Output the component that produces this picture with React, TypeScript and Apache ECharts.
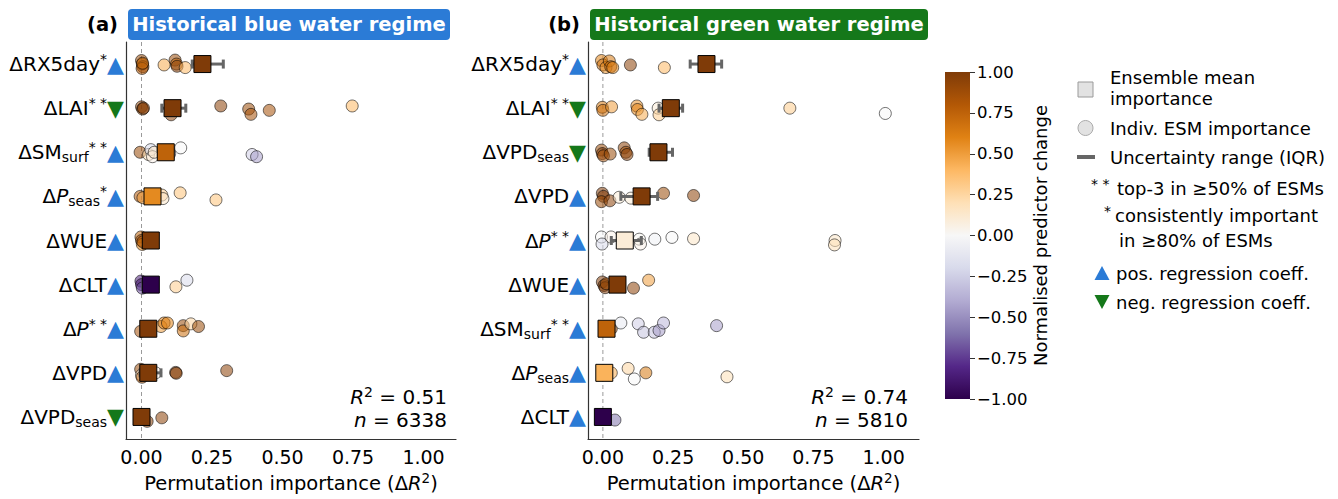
import React, { useEffect, useRef } from 'react';
import * as echarts from 'echarts';

const FONT = '"DejaVu Sans", sans-serif';
const BLUE = '#2b7bd6';
const GREEN = '#15781a';

// PuOr colormap, from -1 (purple) to +1 (brown)
const PUOR = ['#2d004b', '#542788', '#8073ac', '#b2abd2', '#d8daeb', '#f7f7f7', '#fee0b6', '#fdb863', '#e08214', '#b35806', '#7f3b08'];
const CBAR_TICKS = [-1, -0.75, -0.5, -0.25, 0, 0.25, 0.5, 0.75, 1];
const X_TICKS = [0, 0.25, 0.5, 0.75, 1];

// ---------- Panel (a): historical blue water regime ----------
const catsA = ['RX5day', 'LAI', 'SMsurf', 'Pseas', 'WUE', 'CLT', 'P', 'VPD', 'VPDseas'];
const starsA = ['*', '**', '**', '*', '', '', '**', '', ''];
const signA = [1, -1, 1, 1, 1, 1, 1, 1, -1];
const meanA = [0.216, 0.110, 0.086, 0.039, 0.033, 0.033, 0.024, 0.024, 0.0];
const meanColA = [1.0, 1.0, 0.75, 0.57, 1.0, -1.0, 1.0, 1.0, 1.0];
const iqrA = [[0.18, 0.29], [0.072, 0.157], [0.06, 0.11], [0.02, 0.06], [0.01, 0.05], [0.005, 0.05], [0.01, 0.04], [-0.005, 0.069], [0.0, 0.02]];
// [row, importance, vertical jitter, normalised change]
const esmA = [
  [0, 0.000, -0.08, 0.9], [0, 0.003, 0.0, 0.85], [0, 0.005, 0.06, 0.95], [0, 0.002, 0.1, 0.8], [0, 0.004, -0.02, 0.7],
  [0, 0.080, 0.02, 0.45], [0, 0.119, -0.09, 0.9], [0, 0.124, 0.0, 0.75], [0, 0.126, 0.05, 0.95], [0, 0.155, 0.08, 0.4],
  [1, 0.0, -0.03, 0.95], [1, 0.004, 0.02, 0.9], [1, 0.007, 0.0, 1.0], [1, 0.105, 0.15, 0.95], [1, 0.281, -0.05, 0.95],
  [1, 0.380, 0.02, 0.9], [1, 0.388, 0.14, 0.85], [1, 0.453, 0.05, 0.85], [1, 0.747, -0.05, 0.4],
  [2, -0.005, 0.0, 0.9], [2, 0.025, 0.05, 0.2], [2, 0.033, -0.06, -0.2], [2, 0.039, 0.1, 0.05], [2, 0.045, 0.0, 0.15],
  [2, 0.1, 0.03, -0.4], [2, 0.139, -0.1, 0.0], [2, 0.392, 0.05, -0.25], [2, 0.408, 0.1, -0.45],
  [3, -0.005, 0.0, 0.8], [3, 0.005, 0.03, 0.5], [3, 0.072, -0.03, 0.3], [3, 0.076, 0.05, 0.15], [3, 0.137, -0.08, 0.35], [3, 0.264, 0.08, 0.35],
  [4, -0.002, -0.08, 0.75], [4, 0.0, 0.0, 0.9], [4, 0.003, 0.09, 0.6], [4, 0.005, 0.03, 0.8],
  [5, -0.002, -0.08, -0.85], [5, 0.0, 0.0, -0.9], [5, 0.003, 0.08, -0.7], [5, 0.122, 0.05, 0.3], [5, 0.161, -0.1, -0.2],
  [6, -0.003, 0.06, 0.85], [6, 0.069, -0.05, 0.5], [6, 0.080, -0.13, 0.65], [6, 0.092, -0.13, 0.6], [6, 0.148, -0.07, 0.9],
  [6, 0.148, 0.05, 0.7], [6, 0.175, -0.11, 0.25], [6, 0.202, -0.05, 0.9],
  [7, -0.003, -0.08, 0.9], [7, 0.0, 0.05, 0.1], [7, 0.002, 0.1, 0.8], [7, 0.05, 0.0, 0.05], [7, 0.121, -0.01, 1.0], [7, 0.123, 0.01, 0.95], [7, 0.302, -0.05, 0.95],
  [8, 0.0, 0.0, 0.9], [8, 0.02, 0.1, 0.95], [8, 0.072, 0.02, 0.95],
];

// ---------- Panel (b): historical green water regime ----------
const catsB = ['RX5day', 'LAI', 'VPDseas', 'VPD', 'P', 'WUE', 'SMsurf', 'Pseas', 'CLT'];
const starsB = ['*', '**', '', '', '**', '', '**', '', ''];
const signB = [1, -1, -1, 1, 1, 1, 1, 1, 1];
const meanB = [0.369, 0.242, 0.198, 0.138, 0.078, 0.052, 0.013, 0.005, 0.0];
const meanColB = [1.0, 1.0, 1.0, 1.0, 0.1, 1.0, 0.75, 0.42, -1.0];
const iqrB = [[0.311, 0.423], [0.2, 0.284], [0.165, 0.248], [0.064, 0.195], [0.03, 0.137], [0.03, 0.07], [0.0, 0.03], [-0.005, 0.02], [0.0, 0.02]];
const esmB = [
  [0, -0.005, -0.08, 0.6], [0, 0.0, 0.02, 0.7], [0, 0.011, 0.08, 0.55], [0, 0.023, -0.07, 0.65], [0, 0.028, 0.06, 0.75],
  [0, 0.035, 0.08, 0.6], [0, 0.098, 0.02, 0.95], [0, 0.219, 0.08, 0.4],
  [1, -0.002, -0.02, 0.65], [1, 0.0, 0.05, 0.7], [1, 0.031, -0.03, 0.5], [1, 0.121, -0.05, 0.55], [1, 0.123, 0.03, 0.6],
  [1, 0.139, 0.14, 0.45], [1, 0.197, 0.0, 0.1], [1, 0.2, 0.15, 0.3], [1, 0.666, 0.0, 0.3], [1, 1.006, 0.12, 0.0],
  [2, -0.005, -0.05, 0.9], [2, -0.002, 0.03, 1.0], [2, 0.002, 0.08, 0.85], [2, 0.026, 0.04, 0.9], [2, 0.076, -0.1, 0.95],
  [2, 0.082, 0.0, 0.9], [2, 0.086, 0.05, 0.95],
  [3, -0.002, -0.07, 1.0], [3, 0.002, 0.0, 1.0], [3, -0.005, 0.12, 0.9], [3, 0.025, 0.1, 0.95], [3, 0.058, 0.02, 0.1],
  [3, 0.1, 0.04, 0.1], [3, 0.216, -0.07, 0.9], [3, 0.323, -0.02, 0.95],
  [4, -0.005, -0.08, 0.0], [4, -0.003, 0.08, -0.2], [4, 0.029, -0.08, 0.05], [4, 0.13, -0.03, 0.02], [4, 0.134, 0.08, 0.05],
  [4, 0.185, -0.03, -0.05], [4, 0.246, -0.07, 0.0], [4, 0.323, -0.04, 0.15], [4, 0.827, 0.0, 0.15], [4, 0.825, 0.1, 0.2],
  [5, -0.002, -0.06, 1.0], [5, 0.004, 0.02, 0.95], [5, 0.008, 0.07, 1.0], [5, 0.012, -0.02, 0.9], [5, 0.109, 0.08, 0.95], [5, 0.163, -0.1, 0.5],
  [6, 0.03, 0.0, 0.9], [6, 0.064, -0.13, -0.1], [6, 0.126, -0.11, -0.25], [6, 0.145, 0.08, -0.3], [6, 0.183, 0.08, -0.3],
  [6, 0.2, 0.04, -0.45], [6, 0.216, -0.13, -0.35], [6, 0.405, -0.07, -0.45],
  [7, 0.03, 0.0, 0.45], [7, 0.09, -0.1, 0.25], [7, 0.112, 0.14, 0.0], [7, 0.153, 0.0, 0.65], [7, 0.442, 0.09, 0.2],
  [8, 0.0, 0.0, -0.9], [8, 0.043, 0.07, -0.6],
];

const statsA = { r2: '0.51', n: '6338' };
const statsB = { r2: '0.74', n: '5810' };

const LABEL_BASE: Record<string, string> = {
  RX5day: '{m|ΔRX5day}',
  LAI: '{m|ΔLAI}',
  SMsurf: '{m|ΔSM}{sub|surf}',
  Pseas: '{m|Δ}{it|P}{sub|seas}',
  WUE: '{m|ΔWUE}',
  CLT: '{m|ΔCLT}',
  P: '{m|Δ}{it|P}',
  VPD: '{m|ΔVPD}',
  VPDseas: '{m|ΔVPD}{sub|seas}',
};

const RICH = {
  m: { fontSize: 20, fontFamily: FONT, color: '#000', lineHeight: 24 },
  it: { fontSize: 20, fontFamily: FONT, fontStyle: 'italic', color: '#000', lineHeight: 24 },
  sub: { fontSize: 14, fontFamily: FONT, color: '#000', lineHeight: 14, verticalAlign: 'bottom' },
  sup: { fontSize: 14, fontFamily: FONT, color: '#000', lineHeight: 16, verticalAlign: 'top' },
  up: { fontSize: 22, fontFamily: FONT, color: BLUE, lineHeight: 24 },
  dn: { fontSize: 22, fontFamily: FONT, color: GREEN, lineHeight: 24 },
};

function makeLabels(cats: string[], stars: string[], signs: number[]) {
  return cats.map((c, i) => LABEL_BASE[c] + (stars[i] ? `{sup|${stars[i].split('').join(' ')}}` : '') + (signs[i] > 0 ? '{up|▲}' : '{dn|▼}'));
}

function xAxisFor(grid: number, min: number, max: number) {
  return {
    gridIndex: grid, type: 'value', min, max,
    axisLine: { show: true, onZero: false, lineStyle: { color: '#333', width: 1.2 } },
    axisTick: { show: false },
    splitLine: { show: false },
    axisLabel: { customValues: X_TICKS, formatter: (v: number) => v.toFixed(2), fontSize: 19, color: '#000', margin: 8, fontFamily: FONT },
    name: 'Permutation importance (Δ{i|R}{s|2})',
    nameLocation: 'middle', nameGap: 32,
    nameTextStyle: {
      fontSize: 19.5, color: '#000', fontFamily: FONT,
      rich: {
        i: { fontSize: 19.5, fontStyle: 'italic', fontFamily: FONT, color: '#000', lineHeight: 24 },
        s: { fontSize: 13.5, fontFamily: FONT, color: '#000', lineHeight: 16, verticalAlign: 'top' },
      },
    },
  };
}

function catAxisFor(grid: number, cats: string[], labels: string[]) {
  return {
    gridIndex: grid, type: 'category', data: cats, inverse: true,
    axisLine: { show: true, onZero: false, lineStyle: { color: '#333', width: 1.2 } },
    axisTick: { show: false },
    splitLine: { show: false },
    axisLabel: { interval: 0, margin: 2, formatter: (_v: string, i: number) => labels[i], rich: RICH },
  };
}

function valAxisFor(grid: number) {
  return { gridIndex: grid, type: 'value', min: -0.5, max: 8.5, inverse: true, show: false, axisLine: { onZero: false } };
}

function panelSeries(xi: number, yi: number, esm: number[][], mean: number[], meanCol: number[], iqr: number[][]) {
  return [
    {
      type: 'custom', xAxisIndex: xi, yAxisIndex: yi, z: 1, silent: true,
      data: [[0, -0.5, 8.5]], encode: { x: 0, y: [1, 2] },
      renderItem: (_p: any, api: any) => {
        const a = api.coord([api.value(0), api.value(1)]);
        const b = api.coord([api.value(0), api.value(2)]);
        return { type: 'line', shape: { x1: a[0], y1: a[1], x2: b[0], y2: b[1] }, style: { stroke: '#9a9a9a', lineWidth: 1, lineDash: [4, 3] } };
      },
    },
    {
      type: 'scatter', xAxisIndex: xi, yAxisIndex: yi, z: 2, silent: true,
      symbol: 'circle', symbolSize: 12,
      itemStyle: { opacity: 0.55, borderColor: '#000', borderWidth: 1 },
      data: esm.map((d) => [d[1], d[0] + d[2], d[3]]),
    },
    {
      type: 'custom', xAxisIndex: xi, yAxisIndex: yi, z: 3, silent: true,
      data: iqr.map((q, i) => [q[0], q[1], i]), encode: { x: [0, 1], y: 2 },
      renderItem: (_p: any, api: any) => {
        const a = api.coord([api.value(0), api.value(2)]);
        const b = api.coord([api.value(1), api.value(2)]);
        const st = { fill: '#666' };
        return {
          type: 'group',
          children: [
            { type: 'line', shape: { x1: a[0], y1: a[1], x2: b[0], y2: b[1] }, style: { stroke: '#666', lineWidth: 3 } },
            { type: 'rect', shape: { x: a[0] - 1.5, y: a[1] - 4.5, width: 3, height: 9 }, style: st },
            { type: 'rect', shape: { x: b[0] - 1.5, y: b[1] - 4.5, width: 3, height: 9 }, style: st },
          ],
        };
      },
    },
    {
      type: 'scatter', xAxisIndex: xi, yAxisIndex: yi, z: 4, silent: true,
      symbol: 'rect', symbolSize: 17,
      itemStyle: { opacity: 1, borderColor: '#000', borderWidth: 1 },
      data: mean.map((m, i) => [m, i, meanCol[i]]),
    },
  ];
}

function txt(text: string, x: number, y: number, size: number, extra: any = {}) {
  return {
    type: 'text', x, y, silent: true,
    style: {
      text, fontSize: size, fontFamily: FONT, fill: '#000',
      align: 'left', verticalAlign: 'middle', textAlign: 'left', textVerticalAlign: 'middle', ...extra,
    },
  };
}

const STAT_RICH = {
  i: { fontSize: 20, fontStyle: 'italic', fontFamily: FONT, color: '#000', lineHeight: 24 },
  s: { fontSize: 14, fontFamily: FONT, color: '#000', lineHeight: 16, verticalAlign: 'top' },
};

function statText(x: number, s: { r2: string; n: string }) {
  return [
    txt(`{i|R}{s|2} = ${s.r2}`, x, 397, 20, { align: 'right', textAlign: 'right', rich: STAT_RICH }),
    txt(`{i|n} = ${s.n}`, x, 420, 20, { align: 'right', textAlign: 'right', rich: STAT_RICH }),
  ];
}

function titleBox(label: string, title: string, x0: number, x1: number, color: string) {
  return [
    txt(label, x0 - 10, 24, 19.5, { fontWeight: 'bold', align: 'right', textAlign: 'right' }),
    { type: 'rect', silent: true, shape: { x: x0, y: 9, width: x1 - x0, height: 31, r: 4 }, style: { fill: color } },
    txt(title, (x0 + x1) / 2, 24.5, 19.5, { fontWeight: 'bold', fill: '#fff', align: 'center', textAlign: 'center' }),
  ];
}

function legendGraphics() {
  return [
    { type: 'rect', silent: true, shape: { x: 1078, y: 82, width: 15, height: 15 }, style: { fill: '#e2e2e2', stroke: '#9a9a9a', lineWidth: 1 } },
    txt('Ensemble mean', 1110, 77, 18),
    txt('importance', 1110, 98, 18),
    { type: 'circle', silent: true, shape: { cx: 1085.5, cy: 128, r: 7.5 }, style: { fill: '#e2e2e2', stroke: '#aaaaaa', lineWidth: 1 } },
    txt('Indiv. ESM importance', 1110, 128, 18),
    { type: 'line', silent: true, shape: { x1: 1077, y1: 157, x2: 1095, y2: 157 }, style: { stroke: '#666', lineWidth: 4 } },
    txt('Uncertainty range (IQR)', 1110, 157, 18),
    txt('* *', 1091, 184, 14),
    txt('top-3 in ≥50% of ESMs', 1117, 188, 18),
    txt('*', 1104, 211, 14),
    txt('consistently important', 1115, 215, 18),
    txt('in ≥80% of ESMs', 1119, 240, 18),
    { type: 'polygon', silent: true, shape: { points: [[1094.5, 280], [1109.5, 280], [1102, 266]] }, style: { fill: BLUE } },
    txt('pos. regression coeff.', 1116, 273, 18),
    { type: 'polygon', silent: true, shape: { points: [[1094.5, 295], [1109.5, 295], [1102, 309]] }, style: { fill: GREEN } },
    txt('neg. regression coeff.', 1116, 302, 18),
  ];
}

export default function App() {
  const ref = useRef<HTMLDivElement>(null);
  useEffect(() => {
    if (!ref.current) return;
    const chart = echarts.init(ref.current, undefined, { renderer: 'svg' });
    const labelsA = makeLabels(catsA, starsA, signA);
    const labelsB = makeLabels(catsB, starsB, signB);
    const stops = PUOR.map((c, i) => ({ offset: i / (PUOR.length - 1), color: PUOR[PUOR.length - 1 - i] }));
    const option: any = {
      animation: false,
      textStyle: { fontFamily: FONT },
      grid: [
        { left: 126, top: 42, width: 330, height: 397 },
        { left: 588, top: 42, width: 331, height: 397 },
        { left: 945, top: 72, width: 25, height: 327 },
      ],
      xAxis: [
        xAxisFor(0, -0.055, 1.115),
        xAxisFor(1, -0.053, 1.126),
        { gridIndex: 2, type: 'category', data: ['c'], show: false },
      ],
      yAxis: [
        catAxisFor(0, catsA, labelsA),
        valAxisFor(0),
        catAxisFor(1, catsB, labelsB),
        valAxisFor(1),
        {
          gridIndex: 2, type: 'value', min: -1, max: 1, interval: 0.25, position: 'right',
          axisLine: { show: false, onZero: false },
          axisTick: { show: true, length: 5, lineStyle: { color: '#333' } },
          splitLine: { show: false },
          axisLabel: {
            customValues: CBAR_TICKS,
            formatter: (v: number) => (v < 0 ? '−' + Math.abs(v).toFixed(2) : v.toFixed(2)),
            fontSize: 16.5, color: '#000', margin: 7, fontFamily: FONT,
          },
          name: 'Normalised predictor change', nameLocation: 'middle', nameRotate: 90, nameGap: 52,
          nameTextStyle: { fontSize: 18, color: '#000', fontFamily: FONT },
        },
      ],
      visualMap: [
        { type: 'continuous', show: false, min: -1, max: 1, dimension: 2, seriesIndex: [1, 3, 5, 7], inRange: { color: PUOR } },
      ],
      series: [
        ...panelSeries(0, 1, esmA, meanA, meanColA, iqrA),
        ...panelSeries(1, 3, esmB, meanB, meanColB, iqrB),
        {
          type: 'custom', xAxisIndex: 2, yAxisIndex: 4, silent: true,
          data: [[0, -1, 1]], encode: { x: 0, y: [1, 2] },
          renderItem: (p: any, api: any) => {
            const cs = p.coordSys;
            const top = api.coord([0, api.value(2)])[1];
            const bot = api.coord([0, api.value(1)])[1];
            return {
              type: 'rect', shape: { x: cs.x, y: top, width: cs.width, height: bot - top },
              style: { fill: new echarts.graphic.LinearGradient(0, 0, 0, 1, stops) },
            };
          },
        },
      ],
      graphic: [
        ...titleBox('(a)', 'Historical blue water regime', 128, 450, BLUE),
        ...titleBox('(b)', 'Historical green water regime', 590, 928, GREEN),
        ...statText(447, statsA),
        ...statText(908, statsB),
        ...legendGraphics(),
      ],
    };
    chart.setOption(option);
    return () => chart.dispose();
  }, []);
  return <div ref={ref} style={{ position: 'absolute', left: 0, top: 0, width: 1338, height: 499 }} />;
}
